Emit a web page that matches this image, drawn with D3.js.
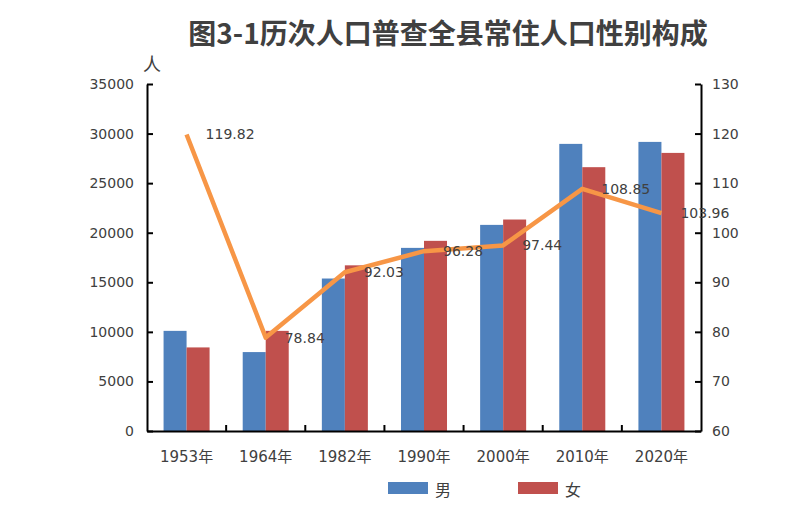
<!DOCTYPE html>
<html><head><meta charset="utf-8">
<script src="https://cdn.jsdelivr.net/npm/d3@7"></script>
<style>body{margin:0;background:#fff;}svg{display:block;}</style>
</head><body>
<script>
const title = "图3-1历次人口普查全县常住人口性别构成";
const categories = ["1953年","1964年","1982年","1990年","2000年","2010年","2020年"];
const seriesNames = ["男","女"];
const male = [10100, 7960, 15380, 18470, 20790, 28960, 29160];
const female = [8430, 10100, 16710, 19180, 21330, 26610, 28050];
const sexRatio = [119.82, 78.84, 92.03, 96.28, 97.44, 108.85, 103.96];
const leftTicks = [0,5000,10000,15000,20000,25000,30000,35000];
const rightTicks = [60,70,80,90,100,110,120,130];

const W = 810, H = 532;
const M = {left:147, right:701, top:84, bottom:431};
const colors = {"男":"#4F81BD","女":"#C0504D"};
const lineColor = "#F79646";
const textColor = "#404040";
const numFont = "'DejaVu Sans','Noto Sans CJK SC',sans-serif";

const svg = d3.select("body").append("svg").attr("width",W).attr("height",H);

const x0 = d3.scaleBand().domain(categories).range([M.left, M.right]).padding(0);
const x1 = d3.scaleBand().domain(seriesNames).range([0, x0.bandwidth()]).paddingInner(0).paddingOuter(0.72);
const yL = d3.scaleLinear().domain([0,35000]).range([M.bottom, M.top]);
const yR = d3.scaleLinear().domain([60,130]).range([M.bottom, M.top]);

// title
svg.append("text").attr("x",448).attr("y",32)
  .attr("text-anchor","middle").attr("dominant-baseline","central")
  .attr("font-family","'Noto Sans CJK SC',sans-serif").attr("font-weight","bold")
  .attr("font-size",28).attr("fill",textColor).text(title);

// unit
svg.append("text").attr("x",152).attr("y",63)
  .attr("text-anchor","middle").attr("dominant-baseline","central")
  .attr("font-family","'Noto Sans CJK SC',sans-serif")
  .attr("font-size",18).attr("fill",textColor).text("人");

// bars
const data = categories.map((c,i)=>({cat:c, vals:[{k:"男",v:male[i]},{k:"女",v:female[i]}]}));
const g = svg.append("g");
g.selectAll("g.cat").data(data).join("g").attr("class","cat")
  .attr("transform",d=>`translate(${x0(d.cat)},0)`)
  .selectAll("rect").data(d=>d.vals).join("rect")
  .attr("x",d=>x1(d.k)).attr("width",x1.bandwidth())
  .attr("y",d=>yL(d.v)).attr("height",d=>yL(0)-yL(d.v))
  .attr("fill",d=>colors[d.k]);

// left axis
const axL = svg.append("g").attr("transform",`translate(${M.left},0)`)
  .call(d3.axisLeft(yL).tickValues(leftTicks).tickSizeInner(-6).tickSizeOuter(0).tickPadding(13).tickFormat(d3.format("d")));
// right axis
const axR = svg.append("g").attr("transform",`translate(${M.right},0)`)
  .call(d3.axisRight(yR).tickValues(rightTicks).tickSizeInner(-6).tickSizeOuter(0).tickPadding(11).tickFormat(d3.format("d")));
// bottom axis
const axB = svg.append("g").attr("transform",`translate(0,${M.bottom})`)
  .call(d3.axisBottom(x0).tickSize(0).tickPadding(20));
axB.selectAll("text").attr("font-size",15);
// category boundary ticks
axB.selectAll("line.bt").data(categories.slice(1)).join("line").attr("class","bt")
  .attr("x1",d=>x0(d)).attr("x2",d=>x0(d)).attr("y1",0).attr("y2",-6)
  .attr("stroke","#000").attr("stroke-width",2);

[axL,axR,axB].forEach(a=>{
  a.select(".domain").attr("stroke","#000").attr("stroke-width",2);
  a.selectAll(".tick line").attr("stroke","#000").attr("stroke-width",2);
  a.selectAll("text").attr("fill",textColor).attr("font-family",numFont);
});
axL.selectAll("text").attr("font-size",14);
axR.selectAll("text").attr("font-size",14);

// line
const pts = categories.map((c,i)=>({x:x0(c)+x0.bandwidth()/2, y:yR(sexRatio[i]), v:sexRatio[i]}));
svg.append("path").datum(pts)
  .attr("d",d3.line().x(d=>d.x).y(d=>d.y))
  .attr("fill","none").attr("stroke",lineColor).attr("stroke-width",4.5)
  .attr("stroke-linejoin","round");
svg.selectAll("text.lbl").data(pts).join("text").attr("class","lbl")
  .attr("x",d=>d.x+19).attr("y",d=>d.y).attr("dominant-baseline","central")
  .attr("font-family",numFont).attr("font-size",14).attr("fill",textColor)
  .text(d=>d.v.toFixed(2));

// legend
const lg = svg.append("g");
const legX = [388, 518];
seriesNames.forEach((s,i)=>{
  lg.append("rect").attr("x",legX[i]).attr("y",482).attr("width",40).attr("height",12).attr("fill",colors[s]);
  lg.append("text").attr("x",legX[i]+47).attr("y",489).attr("dominant-baseline","central")
    .attr("font-family","'Noto Sans CJK SC',sans-serif").attr("font-size",16).attr("fill",textColor).text(s);
});
</script>
</body></html>
